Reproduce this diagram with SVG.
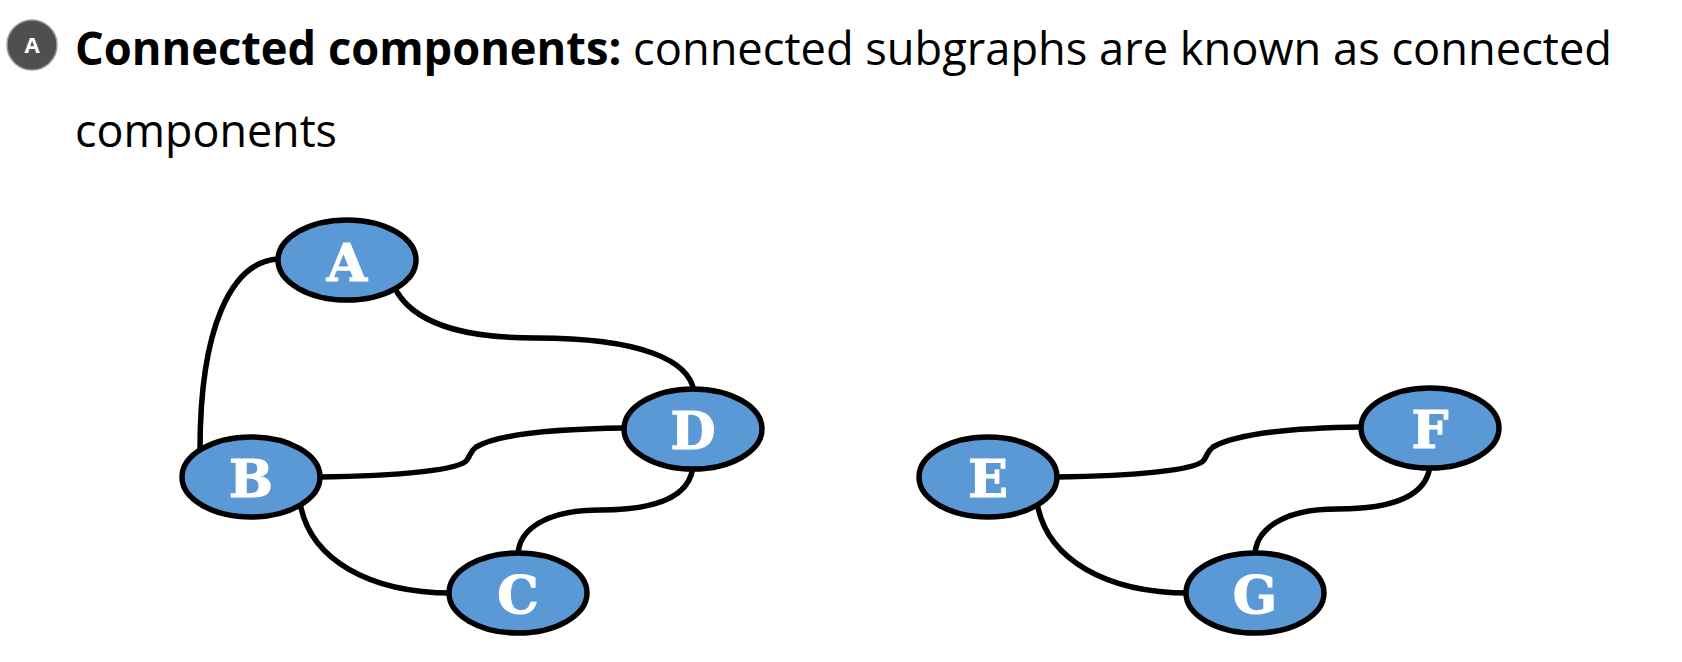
<svg xmlns="http://www.w3.org/2000/svg" width="1682" height="662" viewBox="0 0 1682 662">
<style>
.title{font-family:"Open Sans","Noto Sans","Liberation Sans",sans-serif;font-size:46px;fill:#000}
.b{font-weight:700}
.node ellipse{fill:#5a98d6;stroke:#000;stroke-width:5.5}
.node text{font-family:"DejaVu Serif","Liberation Serif",serif;font-weight:700;font-size:52px;fill:#fff;stroke:#fff;stroke-width:1.2;text-anchor:middle}
.edges path{fill:none;stroke:#000;stroke-width:5.5;stroke-linecap:round}
</style>
<rect width="1682" height="662" fill="#fff"/>
<g id="badge">
<circle cx="32" cy="45" r="25" fill="#4f4f4f" stroke="#9a9a9a" stroke-width="1.5"/>
<text x="32" y="53" font-family="Open Sans, Liberation Sans, sans-serif" font-weight="700" font-size="22" fill="#fff" text-anchor="middle">A</text>
</g>
<g id="title">
<text class="title" x="75" y="65" textLength="1537" lengthAdjust="spacingAndGlyphs"><tspan class="b">Connected components:</tspan> connected subgraphs are known as connected</text>
<text class="title" x="75" y="147" textLength="262" lengthAdjust="spacingAndGlyphs">components</text>
</g>
<g id="connectors" class="edges">
<path id="e-A-B" d="M 278 259 C 230 262, 200 330, 200 450"/>
<path id="e-A-D" d="M 397 292 C 420 330, 480 338, 536 338 C 640 338, 690 360, 694 392"/>
<path id="e-B-D" d="M 318 477 C 400 476, 460 470, 467 460 C 471 454, 470 452, 476 447 C 495 436, 540 429, 625 428"/>
<path id="e-D-C" d="M 693 466 C 690 500, 650 510, 600 510 C 545 510, 518 530, 518 556"/>
<path id="e-B-C" d="M 300 503 C 310 560, 370 593, 452 593"/>
<path id="e-E-F" d="M 1055 477 C 1137 476, 1197 470, 1204 460 C 1208 454, 1207 452, 1213 447 C 1232 436, 1277 428, 1362 427"/>
<path id="e-F-G" d="M 1430 465 C 1427 499, 1387 509, 1337 509 C 1282 509, 1255 530, 1255 556"/>
<path id="e-E-G" d="M 1037 503 C 1047 560, 1107 593, 1189 593"/>
</g>
<g id="node-A" class="node"><ellipse cx="347" cy="260" rx="69" ry="40"/><text x="347" y="281">A</text></g>
<g id="node-B" class="node"><ellipse cx="251" cy="477" rx="69" ry="40"/><text x="251" y="497">B</text></g>
<g id="node-C" class="node"><ellipse cx="518" cy="593" rx="69" ry="40"/><text x="518" y="613">C</text></g>
<g id="node-D" class="node"><ellipse cx="693" cy="429" rx="69" ry="40"/><text x="693" y="449">D</text></g>
<g id="node-E" class="node"><ellipse cx="988" cy="477" rx="69" ry="40"/><text x="988" y="497">E</text></g>
<g id="node-F" class="node"><ellipse cx="1430" cy="428" rx="69" ry="40"/><text x="1430" y="448">F</text></g>
<g id="node-G" class="node"><ellipse cx="1255" cy="593" rx="69" ry="40"/><text x="1255" y="613">G</text></g>
</svg>
